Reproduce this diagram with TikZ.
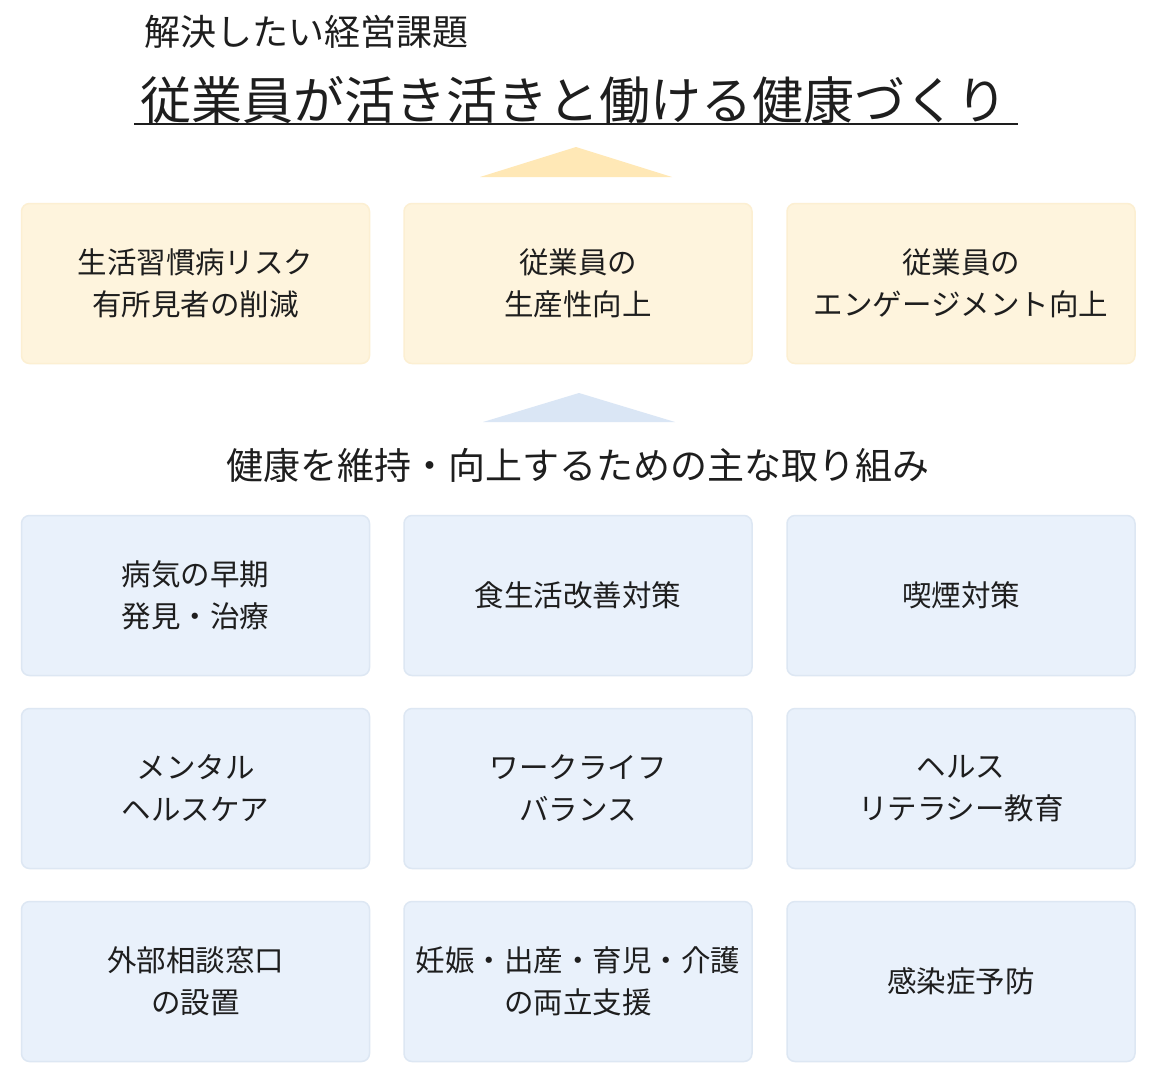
\documentclass[tikz,border=0pt]{standalone}
\usepackage{fontspec}
\setmainfont{Noto Sans CJK JP}
\definecolor{ink}{HTML}{1E1E1E}
\definecolor{goalfill}{HTML}{FEF4DD}
\definecolor{goalline}{HTML}{FCEFD2}
\definecolor{goaltri}{HTML}{FFE8B6}
\definecolor{actfill}{HTML}{E9F1FB}
\definecolor{actline}{HTML}{DDE7F3}
\definecolor{acttri}{HTML}{DAE6F5}
\begin{document}
\begin{tikzpicture}[x=1pt,y=-1pt,
    goalbox/.style={rectangle, rounded corners=8pt, draw=goalline, fill=goalfill,
      line width=1.5pt, minimum width=348pt, minimum height=160pt, align=center,
      font=\fontsize{29.5}{42}\selectfont, text=ink},
    actbox/.style={goalbox, draw=actline, fill=actfill}]
            \useasboundingbox [fill=white] (0,0) rectangle (1160,1080);
            % headings
            \node [text=ink, inner sep=0pt, font=\fontsize{36}{40}\selectfont] (issue) at (306,32) {解決したい経営課題};
            \node [text=ink, inner sep=0pt, font=\fontsize{51}{56}\selectfont] (title) at (574,100) {従業員が活き活きと働ける健康づくり};
            \draw [ink, line width=2.5pt] ([xshift=-6pt]title.west |- 0,124) coordinate (ul1) -- ([xshift=10pt]title.east |- 0,124) coordinate (ul2);
            \fill [goaltri] (480,177) -- (576,147) -- (672,177) -- cycle;
            % goals
            \node [goalbox] (g1) at (195.5,283.5) {生活習慣病リスク\\有所見者の削減};
            \node [goalbox] (g2) at (578,283.5) {従業員の\\生産性向上};
            \node [goalbox] (g3) at (961,283.5) {従業員の\\エンゲージメント向上};
            \fill [acttri] (483,422) -- (579,393) -- (675,422) -- cycle;
            \node [text=ink, inner sep=0pt, font=\fontsize{37}{40}\selectfont] (measures) at (578,465) {健康を維持・向上するための主な取り組み};
            % measures
            \node [actbox] (a1) at (195.5,595.5) {病気の早期\\発見・治療};
            \node [actbox] (a2) at (578,595.5) {食生活改善対策};
            \node [actbox] (a3) at (961,595.5) {喫煙対策};
            \node [actbox] (a4) at (195.5,788.5) {メンタル\\ヘルスケア};
            \node [actbox] (a5) at (578,788.5) {ワークライフ\\バランス};
            \node [actbox] (a6) at (961,788.5) {ヘルス\\リテラシー教育};
            \node [actbox] (a7) at (195.5,981.5) {外部相談窓口\\の設置};
            \node [actbox] (a8) at (578,981.5) {妊娠・出産・育児・介護\\の両立支援};
            \node [actbox] (a9) at (961,981.5) {感染症予防};
        \end{tikzpicture}
\end{document}
